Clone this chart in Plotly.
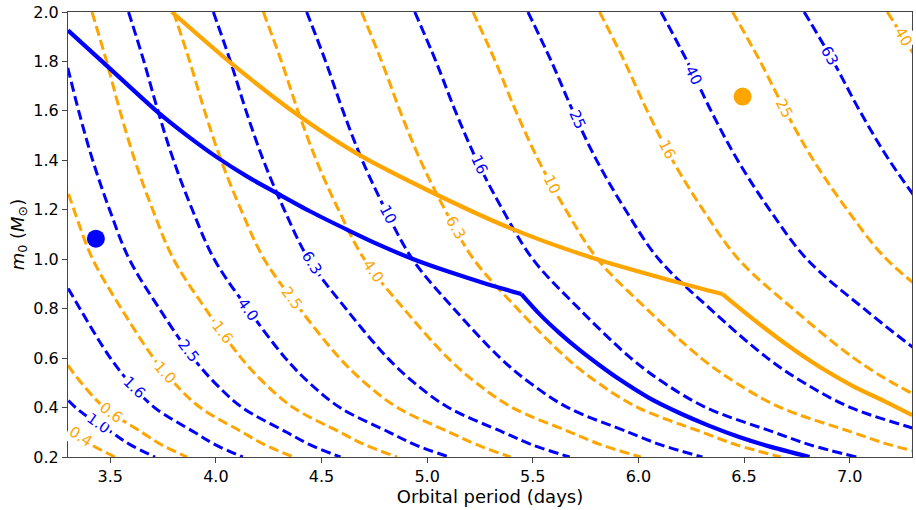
import plotly.graph_objects as go

# ---- data ----
m_grid = [2.0, 1.8, 1.6, 1.4, 1.2, 1.0, 0.8, 0.6, 0.5, 0.4, 0.3, 0.25, 0.2]

blue_levels = ["1.0", "1.6", "2.5", "4.0", "6.3", "10", "16", "25", "40", "63"]
blue_1_0 = [2.6084, 2.6614, 2.7096, 2.7633, 2.8280, 2.9034, 3.0187, 3.1483, 3.2308, 3.3361, 3.5062, 3.5941, 3.7118]
blue_1_6 = [2.9005, 2.9594, 3.0130, 3.0728, 3.1447, 3.2285, 3.3567, 3.5009, 3.5926, 3.7097, 3.8988, 3.9966, 4.1274]
blue_2_5 = [3.2253, 3.2908, 3.3504, 3.4169, 3.4969, 3.5901, 3.7326, 3.8929, 3.9949, 4.1252, 4.3355, 4.4442, 4.5896]
blue_4_0 = [3.5865, 3.6593, 3.7257, 3.7995, 3.8885, 3.9921, 4.1507, 4.3289, 4.4422, 4.5871, 4.8210, 4.9418, 5.1036]
blue_6_3 = [3.9880, 4.0690, 4.1427, 4.2249, 4.3238, 4.4390, 4.6153, 4.8135, 4.9395, 5.1007, 5.3607, 5.4947, 5.6748]
blue_10 = [4.4296, 4.5195, 4.6015, 4.6927, 4.8026, 4.9306, 5.1264, 5.3465, 5.4865, 5.6655, 5.9543, 6.1036, 6.3029]
blue_16 = [4.9414, 5.0417, 5.1331, 5.2349, 5.3575, 5.5003, 5.7187, 5.9643, 6.1204, 6.3201, 6.6423, 6.8088, 7.0311]
blue_25 = [5.4770, 5.5882, 5.6895, 5.8023, 5.9382, 6.0965, 6.3385, 6.6107, 6.7838, 7.0051, 7.3622, 7.5468, 7.7938]
blue_40 = [6.1070, 6.2310, 6.3440, 6.4698, 6.6212, 6.7977, 7.0676, 7.3711, 7.5641, 7.8109, 8.2090, 8.4148, 8.6903]
blue_63 = [6.7845, 6.9222, 7.0477, 7.1875, 7.3557, 7.5518, 7.8517, 8.1889, 8.4033, 8.6774, 9.1197, 9.3484, 9.6543]

orange_levels = ["0.4", "0.6", "1.0", "1.6", "2.5", "4.0", "6.3", "10", "16", "25", "40"]
orange_0_4 = [2.4750, 2.5252, 2.5710, 2.6220, 2.6834, 2.7549, 2.8643, 2.9873, 3.0655, 3.1655, 3.3269, 3.4103, 3.5219]
orange_0_6 = [2.7150, 2.7701, 2.8203, 2.8763, 2.9436, 3.0221, 3.1421, 3.2770, 3.3628, 3.4725, 3.6495, 3.7410, 3.8634]
orange_1_0 = [3.0697, 3.1320, 3.1888, 3.2520, 3.3282, 3.4169, 3.5526, 3.7051, 3.8021, 3.9261, 4.1263, 4.2297, 4.3682]
orange_1_6 = [3.4135, 3.4828, 3.5459, 3.6163, 3.7009, 3.7996, 3.9504, 4.1201, 4.2280, 4.3659, 4.5884, 4.7035, 4.8574]
orange_2_5 = [3.7990, 3.8761, 3.9464, 4.0247, 4.1189, 4.2287, 4.3966, 4.5854, 4.7054, 4.8589, 5.1066, 5.2347, 5.3950]
orange_4_0 = [4.2245, 4.3103, 4.3884, 4.4754, 4.5802, 4.7023, 4.8890, 5.0990, 5.2324, 5.4031, 5.6786, 5.8210, 6.0115]
orange_6_3 = [4.6895, 4.7847, 4.8715, 4.9681, 5.0844, 5.2199, 5.4272, 5.6603, 5.8084, 5.9979, 6.3036, 6.4616, 6.6732]
orange_10 = [5.2170, 5.3229, 5.4194, 5.5269, 5.6563, 5.8071, 6.0377, 6.2969, 6.4618, 6.6725, 7.0127, 7.1884, 7.4238]
orange_16 = [5.8160, 5.9341, 6.0417, 6.1615, 6.3057, 6.4738, 6.7309, 7.0199, 7.2037, 7.4387, 7.8179, 8.0139, 8.2762]
orange_25 = [6.4456, 6.5764, 6.6957, 6.8285, 6.9883, 7.1746, 7.4595, 7.7798, 7.9835, 8.2439, 8.6642, 8.8814, 9.1721]
orange_40 = [7.1780, 7.3237, 7.4565, 7.6044, 7.7824, 7.9898, 8.3071, 8.6638, 8.8907, 9.1807, 9.6487, 9.8906, 10.2143]

# contour label positions (period, mass) and orientation along the curve
blue_label_p = [3.445, 3.614, 3.869, 4.152, 4.452, 4.815, 5.246, 5.710, 6.262, 6.905]
blue_label_m = [0.336, 0.482, 0.630, 0.798, 0.985, 1.181, 1.382, 1.564, 1.745, 1.825]
blue_label_ang = [35, 44, 52, 54, 58, 62, 65, 66, 63, 61]
orange_label_p = [3.359, 3.504, 3.760, 4.032, 4.360, 4.747, 5.134, 5.591, 6.136, 6.690, 7.252]
orange_label_m = [0.281, 0.382, 0.543, 0.704, 0.840, 0.952, 1.127, 1.302, 1.443, 1.610, 1.899]
orange_label_ang = [33, 37, 47, 53, 54, 55, 60, 63, 63, 62, 60]

# solid limit curves (before and after the kink)
blue_solid_p1 = [3.300, 3.500, 3.722, 3.864, 4.006, 4.147, 4.289, 4.445, 4.634, 4.776, 4.932, 5.107, 5.282, 5.446]
blue_solid_m1 = [1.926, 1.770, 1.597, 1.500, 1.412, 1.335, 1.267, 1.194, 1.114, 1.057, 1.001, 0.948, 0.900, 0.859]
blue_solid_p2 = [5.446, 5.532, 5.627, 5.721, 5.816, 5.910, 6.052, 6.194, 6.336, 6.477, 6.619, 6.810]
blue_solid_m2 = [0.859, 0.778, 0.701, 0.633, 0.571, 0.514, 0.438, 0.378, 0.326, 0.281, 0.243, 0.200]
orange_solid_p1 = [3.7916, 4.083, 4.398, 4.666, 5.012, 5.390, 5.784, 6.162, 6.398]
orange_solid_m1 = [2.000, 1.785, 1.577, 1.428, 1.275, 1.127, 1.005, 0.912, 0.859]
orange_solid_p2 = [6.398, 6.540, 6.698, 6.855, 7.013, 7.171, 7.296]
orange_solid_m2 = [0.859, 0.760, 0.657, 0.566, 0.488, 0.423, 0.369]

# observed systems
blue_dot = (3.432, 1.083)
orange_dot = (6.493, 1.658)

x_ticks = [3.5, 4.0, 4.5, 5.0, 5.5, 6.0, 6.5, 7.0]
y_ticks = [0.2, 0.4, 0.6, 0.8, 1.0, 1.2, 1.4, 1.6, 1.8, 2.0]

BLUE = "#0000ff"
ORANGE = "#ffa500"

blue_curves = [blue_1_0, blue_1_6, blue_2_5, blue_4_0, blue_6_3, blue_10,
               blue_16, blue_25, blue_40, blue_63]
orange_curves = [orange_0_4, orange_0_6, orange_1_0, orange_1_6, orange_2_5, orange_4_0,
                 orange_6_3, orange_10, orange_16, orange_25, orange_40]

fig = go.Figure()

for curves, color in ((orange_curves, ORANGE), (blue_curves, BLUE)):
    for p in curves:
        fig.add_trace(go.Scatter(
            x=p, y=m_grid, mode="lines",
            line=dict(color=color, width=3, dash="10px,4.5px", shape="spline", smoothing=1.0),
            hoverinfo="skip", showlegend=False))

for px, mm, color in ((blue_solid_p1, blue_solid_m1, BLUE), (blue_solid_p2, blue_solid_m2, BLUE),
                      (orange_solid_p1, orange_solid_m1, ORANGE), (orange_solid_p2, orange_solid_m2, ORANGE)):
    fig.add_trace(go.Scatter(
        x=px, y=mm, mode="lines",
        line=dict(color=color, width=4.2, shape="spline", smoothing=0.8),
        hoverinfo="skip", showlegend=False))

fig.add_trace(go.Scatter(x=[blue_dot[0]], y=[blue_dot[1]], mode="markers",
                         marker=dict(color=BLUE, size=18), showlegend=False, hoverinfo="skip"))
fig.add_trace(go.Scatter(x=[orange_dot[0]], y=[orange_dot[1]], mode="markers",
                         marker=dict(color=ORANGE, size=18), showlegend=False, hoverinfo="skip"))

for labels, lp, lm, la, color in ((blue_levels, blue_label_p, blue_label_m, blue_label_ang, BLUE),
                                  (orange_levels, orange_label_p, orange_label_m, orange_label_ang, ORANGE)):
    for t, x, y, a in zip(labels, lp, lm, la):
        fig.add_annotation(x=x, y=y, text=t, textangle=a, showarrow=False,
                           font=dict(family="DejaVu Sans", size=15, color=color),
                           bgcolor="white", borderpad=1.5, xanchor="center", yanchor="middle")

axis_common = dict(showline=True, linecolor="#444", linewidth=1, mirror=True,
                   ticks="outside", ticklen=5, tickwidth=1, tickcolor="#444",
                   showgrid=False, zeroline=False, ticklabeloverflow="allow",
                   tickfont=dict(family="DejaVu Sans", size=16, color="black"))

fig.update_xaxes(range=[3.3, 7.295], tickvals=x_ticks, ticktext=[f"{v:.1f}" for v in x_ticks],
                 title=dict(text="Orbital period (days)", font=dict(family="DejaVu Sans", size=18, color="black"),
                            standoff=5),
                 **axis_common)
fig.update_yaxes(range=[0.2, 2.0], tickvals=y_ticks, ticktext=[f"{v:.1f}" for v in y_ticks],
                 title=dict(text="<i>m</i><sub>0</sub> (<i>M</i><sub>⊙</sub>)",
                            font=dict(family="DejaVu Sans", size=18, color="black"), standoff=4),
                 **axis_common)

fig.update_layout(width=916, height=510, margin=dict(l=68, r=3, t=10, b=53),
                  paper_bgcolor="white", plot_bgcolor="white", hovermode=False)

# remove the default page margin so the figure fills the window exactly
fig.write_html("out.html", config={"displayModeBar": False, "staticPlot": True},
               post_script="document.body.style.margin='0px';document.body.style.overflow='hidden';")
